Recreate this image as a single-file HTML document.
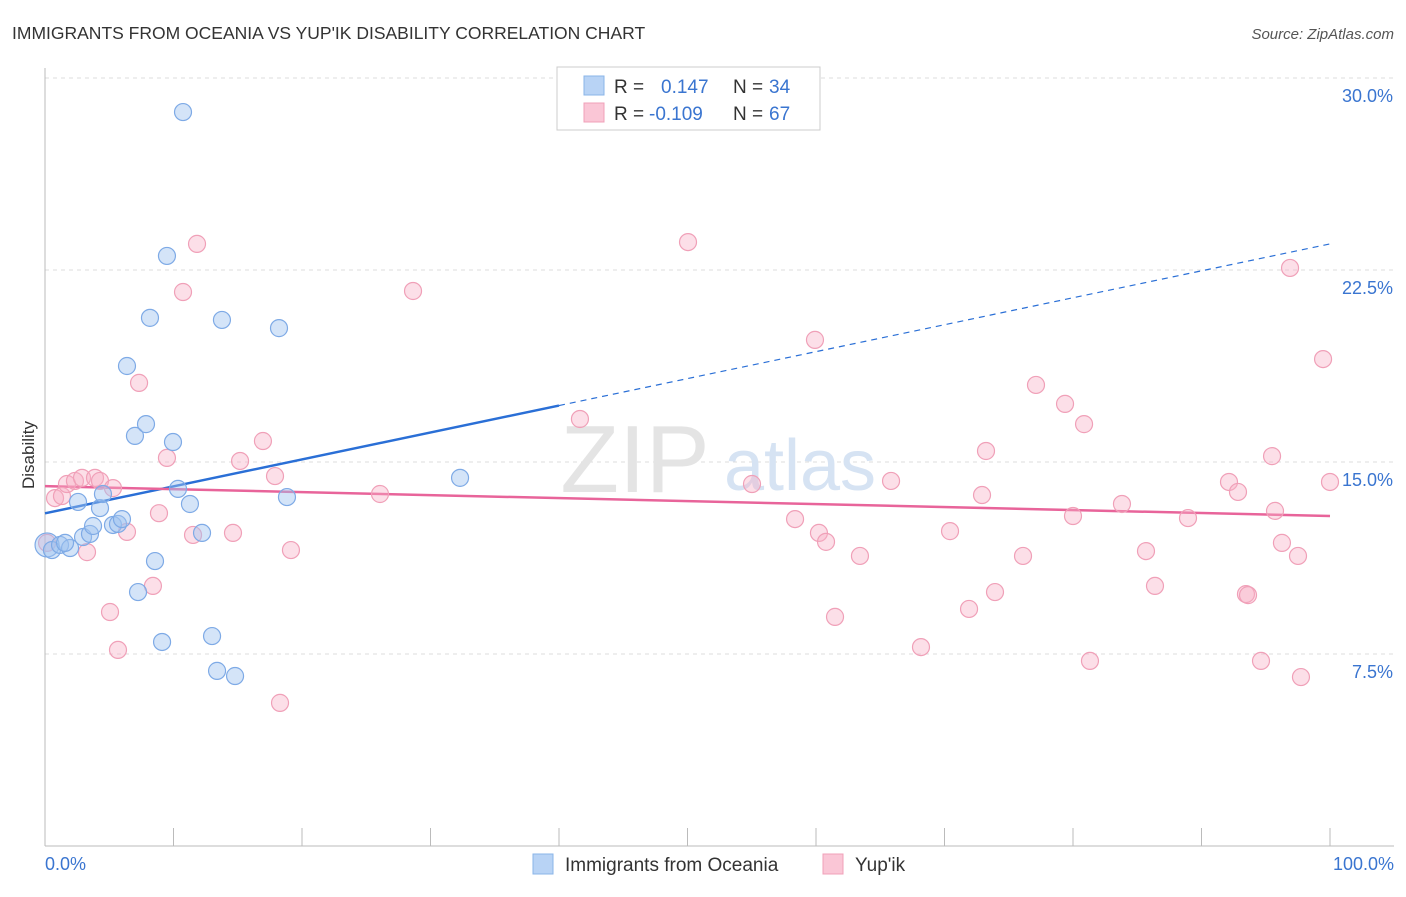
<!DOCTYPE html>
<html><head><meta charset="utf-8"><style>
body{margin:0;background:#fff;font-family:"Liberation Sans",sans-serif;}
svg text{font-family:"Liberation Sans",sans-serif;}
</style></head><body>
<svg id="chart" width="1406" height="892" xmlns="http://www.w3.org/2000/svg">
<text x="12" y="39" font-size="17.5" fill="#333">IMMIGRANTS FROM OCEANIA VS YUP'IK DISABILITY CORRELATION CHART</text>
<text x="1394" y="39" font-size="15" fill="#555" text-anchor="end" font-style="italic">Source: ZipAtlas.com</text>
<text transform="translate(34,455) rotate(-90)" font-size="17" fill="#333" text-anchor="middle">Disability</text>
<g id="grid"></g>
<g><text x="635" y="492" font-size="96" fill="#e4e4e4" font-family="Liberation Serif" text-anchor="middle">ZIP</text><text x="800" y="490" font-size="72" fill="#d6e3f3" text-anchor="middle">atlas</text></g>
<g id="trend"></g>
<g id="pts"></g>
<g>
<rect x="557" y="67" width="263" height="63" fill="#fff" stroke="#ccc"/>
<rect x="584" y="76" width="20" height="19" fill="#b8d3f5" stroke="#8ab4e8"/>
<rect x="584" y="103" width="20" height="19" fill="#fac6d6" stroke="#f0a0b8"/>
<text x="614" y="93" font-size="19" fill="#333">R =</text><text x="661" y="93" font-size="19" fill="#3a75d0">0.147</text>
<text x="733" y="93" font-size="19" fill="#333">N =</text><text x="769" y="93" font-size="19" fill="#3a75d0">34</text>
<text x="614" y="120" font-size="19" fill="#333">R =</text><text x="649" y="120" font-size="19" fill="#3a75d0">-0.109</text>
<text x="733" y="120" font-size="19" fill="#333">N =</text><text x="769" y="120" font-size="19" fill="#3a75d0">67</text>
</g>
<g>
<rect x="533" y="854" width="20" height="20" fill="#b8d3f5" stroke="#8ab4e8"/>
<text x="565" y="871" font-size="19" fill="#333">Immigrants from Oceania</text>
<rect x="823" y="854" width="20" height="20" fill="#fac6d6" stroke="#f0a0b8"/>
<text x="855" y="871" font-size="19" fill="#333">Yup'ik</text>
</g>
</svg>
<script>
const yTicks=[7.5,15,22.5,30];
const yTickLabels=["7.5%","15.0%","22.5%","30.0%"];
const xTickLabels=["0.0%","100.0%"];
const blueX=[0.16,0.54,1.17,1.95,1.56,2.57,2.96,3.5,3.74,4.28,4.51,5.29,5.68,5.99,6.38,7.0,7.24,7.86,8.17,8.56,9.11,9.49,9.96,10.35,10.74,11.28,12.22,13.0,13.39,13.77,14.79,18.21,18.83,32.3];
const blueY=[11.76,11.56,11.76,11.64,11.84,13.44,12.07,12.19,12.5,13.2,13.75,12.54,12.58,12.77,18.75,16.02,9.92,16.48,20.63,11.13,7.97,23.05,15.78,13.95,28.67,13.36,12.23,8.2,6.84,20.55,6.64,20.23,13.63,14.38];
const pinkX=[0.16,0.78,1.32,1.71,2.33,2.88,3.27,3.89,4.28,5.06,5.29,5.68,6.38,7.32,8.4,8.87,9.49,10.74,11.52,11.83,14.63,15.18,16.96,17.9,18.29,19.14,26.07,28.64,41.63,50.04,55.02,58.37,59.92,60.23,60.78,61.48,63.42,65.84,68.17,70.43,71.91,72.92,73.23,73.93,76.11,77.12,79.38,80.0,80.86,81.32,83.81,85.68,86.38,88.95,92.14,92.84,93.46,93.62,94.63,95.49,95.72,96.26,96.89,97.51,97.74,99.46,100];
const pinkY=[11.84,13.59,13.67,14.14,14.26,14.38,11.48,14.38,14.26,9.14,13.98,7.66,12.27,18.09,10.16,13.0,15.16,21.64,12.15,23.52,12.23,15.04,15.82,14.45,5.59,11.56,13.75,21.68,16.68,23.59,14.14,12.77,19.77,12.23,11.88,8.95,11.33,14.26,7.77,12.3,9.26,13.71,15.43,9.92,11.33,18.01,17.27,12.89,16.48,7.23,13.36,11.52,10.16,12.81,14.22,13.83,9.84,9.8,7.23,15.23,13.09,11.84,22.58,11.33,6.6,19.02,14.22];
const NS="http://www.w3.org/2000/svg";
const X0=45,X1=1330,Y0=846,PX=(192/7.5);
function sx(v){return X0+(X1-X0)*v/100;}
function sy(v){return Y0-v*PX;}
function mk(tag,attrs,parent){const e=document.createElementNS(NS,tag);for(const k in attrs)e.setAttribute(k,attrs[k]);parent.appendChild(e);return e;}
const grid=document.getElementById('grid');
yTicks.forEach((t,i)=>{
  const l=mk('line',{x1:X0,x2:1394,y1:sy(t),y2:sy(t),stroke:'#ddd','stroke-dasharray':'4,4'},grid);
  
  
  const tx=mk('text',{x:1393,y:sy(t)+24,'font-size':18,fill:'#3a75d0','text-anchor':'end'},grid);
  tx.textContent=yTickLabels[i];
  
  
});
const ax=mk('line',{x1:X0,x2:1394,y1:Y0,y2:Y0,stroke:'#bbb'},grid);


const ay=mk('line',{x1:X0,x2:X0,y1:68,y2:Y0,stroke:'#bbb'},grid);


for(let i=0;i<=10;i++){
  const t=mk('line',{x1:sx(i*10),x2:sx(i*10),y1:Y0,y2:Y0-18,stroke:'#bbb'},grid);
  
  
}
[[0,'start',45],[100,'end',1394]].forEach((d,i)=>{
  const t=mk('text',{x:d[2],y:870,'font-size':18,fill:'#3a75d0','text-anchor':d[1]},grid);
  t.textContent=xTickLabels[i];
  
  
});
function fit(xs,ys){const n=xs.length;let mx=0,my=0;for(let i=0;i<n;i++){mx+=xs[i];my+=ys[i];}mx/=n;my/=n;let a=0,b=0;for(let i=0;i<n;i++){a+=(xs[i]-mx)*(ys[i]-my);b+=(xs[i]-mx)**2;}const s=a/b;return [my-s*mx,s];}
const trend=document.getElementById('trend');
const bf=fit(blueX,blueY),pf=fit(pinkX,pinkY);
const bl=mk('line',{x1:sx(0),y1:sy(bf[0]),x2:sx(40),y2:sy(bf[0]+bf[1]*40),stroke:'#2a6fd6','stroke-width':2.5},trend);


const bd=mk('line',{x1:sx(40),y1:sy(bf[0]+bf[1]*40),x2:sx(100),y2:sy(bf[0]+bf[1]*100),stroke:'#2a6fd6','stroke-width':1.2,'stroke-dasharray':'6,5'},trend);


const pl=mk('line',{x1:sx(0),y1:sy(pf[0]),x2:sx(100),y2:sy(pf[0]+pf[1]*100),stroke:'#e8649a','stroke-width':2.5},trend);


const pts=document.getElementById('pts');
pinkX.forEach((x,i)=>{
  const c=mk('circle',{cx:sx(x),cy:sy(pinkY[i]),r:8.5,fill:'rgba(248,175,198,0.4)',stroke:'#f0a0b8','stroke-width':1.2},pts);
  
  
});
blueX.forEach((x,i)=>{
  const c=mk('circle',{cx:sx(x),cy:sy(blueY[i]),r:i==0?12:8.5,fill:'rgba(160,196,240,0.45)',stroke:'#7eaae6','stroke-width':1.2},pts);
  
  
});
</script>
</body></html>
